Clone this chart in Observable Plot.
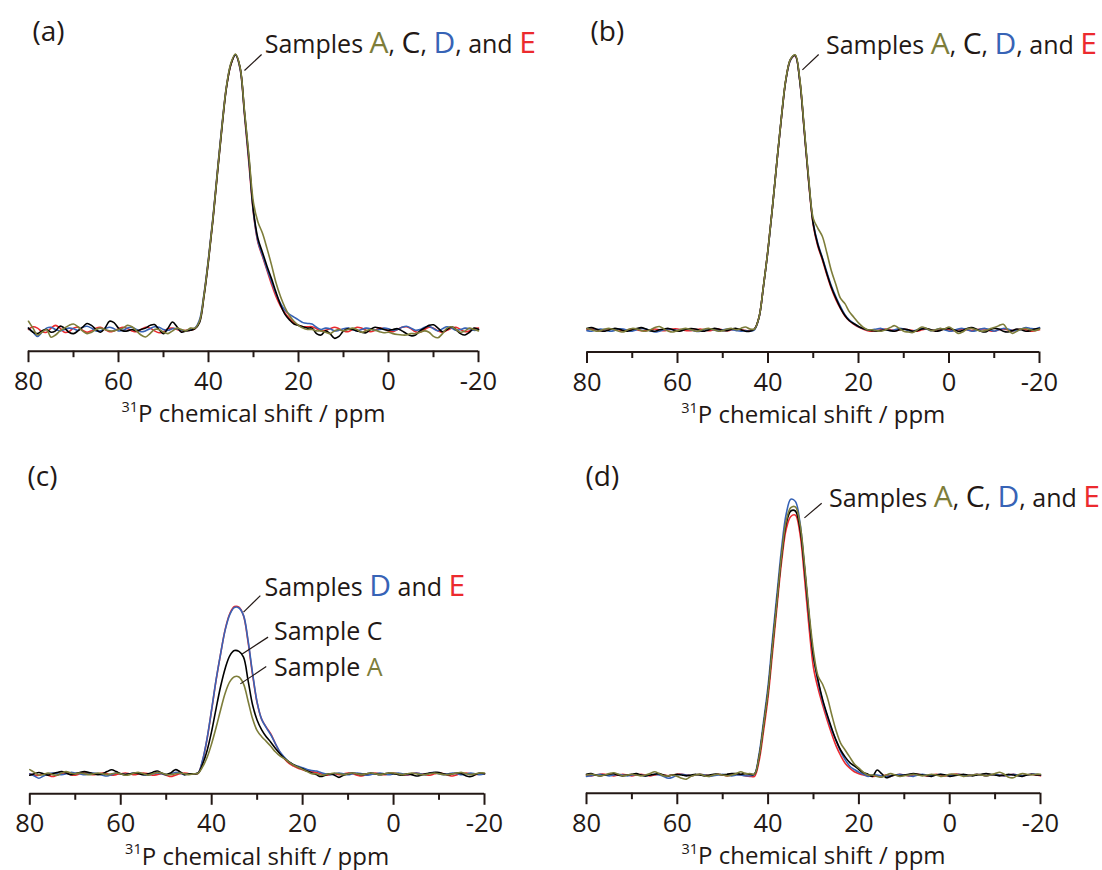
<!DOCTYPE html>
<html><head><meta charset="utf-8">
<script src="https://cdn.jsdelivr.net/npm/d3@7"></script>
<script src="https://cdn.jsdelivr.net/npm/@observablehq/plot@0.6"></script>
<style>
html,body{margin:0;padding:0;background:#fff;}
#wrap{position:relative;width:1102px;height:870px;background:#fff;}
.panel{position:absolute;width:551px;height:435px;}
</style></head><body><div id="wrap"></div>
<script>
// chemical shift grid (ppm)
const ppm = [80,79,78,77,76,75,74,73,72,71,70,69,68,67,66,65,64,63,62,61,60,59,58,57,56,55,54,53,52,51,50,49,48,47,46,45,
44,43,42,41,40,39,38,37,36,35,34,33,32,31,30,29,28,27,26,25,24,23,22,21,20,19,18,
17,16,15,14,13,12,11,10,9,8,7,6,5,4,3,2,1,0,-1,-2,-3,-4,-5,-6,-7,-8,-9,-10,-11,-12,-13,-14,-15,-16,-17,-18,-19,-20];
const majorTicks = [80,60,40,20,0,-20];
const minorTicks = [70,50,30,10,-10];

// panel (a)
const a_A = [3,0.5,-2,-1,0,-2.8,-2,-0.5,0.5,1.5, 2,1,-0.5,-1.5,-1,0,0.5,0,-0.5,-0.5, 0,0.5,1.5,1,-0.5,-2,-2.7,-1.5,0,0, -1,-1.5,-0.5,0.5,0,-0.5,
0.5,0.5,3,12.5,25.5,40.5,57.5,74,88.5,97, 100.2,95.5,79.5,63,46,39,35,29.5,23.5,17, 12,8,5,3,1.5,0.5,0,
0,-0.5,-0.5,-1,-1.5,-0.5,0,-0.5,0,0.5, 0,-1,-0.5,0,-0.3,-0.8,-1.2,-1,-1.5,-1.8, -2,-2,-1.5,-1.5,-1,-0.5,-1,-2.5,-3,-1.5, 0.5,1,0,-1,-0.5,0.5,0,-0.5];
const a_C = [0.5,-1,-1.5,-0.5,0,-1,-0.5,1.2,0.5,-1, -1.5,-0.5,0.8,2.2,1.5,0,-1,0.5,3,2.5, 0.5,-0.5,-0.5,0,-0.5,0,0.5,1.5,1.8,0, -1.5,0.5,2.7,1,-1,-0.5,
-0.3,0.3,2.5,12,25,40,57,73.5,88,96.5, 100,95.5,79,62,43,33,28,23,18.5,13.5, 9,5.5,3.5,2,1.5,1,0.5,
0.5,-1.5,-2,-0.5,-1.5,-3.2,-2.5,-0.5,0.3,0, -0.5,-1,-1.2,0,0.8,0.5,0,-0.3,0,0.3, -0.5,-1.5,-2.3,-2,-0.5,0.5,1.5,1.7,0.5,-0.8, 0,1,0,-1.5,-2,-1,0.5,0];
const a_D = [0.5,-1,-2.5,-1,0.5,0.8,0,-0.5,0,0.5, 0.3,-0.3,0.8,1.2,0.5,-0.5,-0.5,0.3,0.8,0.3, -0.5,-0.3,0.5,0.8,0,-0.8,-0.5,0.3,1,0.8, 0,-0.3,0.3,0.3,-0.3,-0.5,
0,0.5,3.5,13,26,41,58,74.5,88.5,96.7, 99.8,95,78.5,61,42.5,32,27,22,17.5,13, 9.5,7,5.5,4.5,3.5,2.5,2.2,
2,0.8,0,0.5,0.3,-0.5,-0.3,0.3,0.5,0, -0.5,0,0.5,0.3,-0.3,0,0.5,0.3,-0.3,0, 0.8,1.2,0.5,-0.3,0,0.8,1.2,0.3,-0.5,0.3, 1,0.5,-0.3,0,0.5,0.3,-0.3,0];
const a_E = [0,1,0.5,-0.8,-1,0.5,1.5,0.5,-1,-0.8, 0.5,0.8,-0.3,-1,-0.5,0.5,0.8,0,-0.8,-0.5, 0.3,0.8,0.3,-0.5,-0.8,0,0.8,0.5,-0.5,-1.2, -0.8,0.3,0.5,0,-0.5,-0.3,
-0.3,0.3,2.8,12.5,25.5,40.5,57.5,74,88.3,96.5, 99.8,95,78,60,42,31.5,26.5,21.5,16.5,12, 8.5,6,4,2.5,1.5,1,1,
1,0.3,-0.5,-0.3,0.3,0.8,0.3,-0.5,-0.8,0, 0.8,0.5,-0.3,-0.8,-0.3,0.5,0.3,-0.5,-0.8,0, 0.8,1,0.3,-0.8,-1,0,0.8,0.5,-0.5,-1, -0.3,0.5,0.8,0,-0.8,-0.5,0.3,0.5];

// panel (b)
const b_A = [0.5,0,-0.5,-0.3,0.3,0.5,0,-0.5,-0.8,0, 0.5,0.3,-0.3,-0.5,0,0.8,1.2,0.3,-0.5,-0.8, -0.3,0.3,0.5,0,-0.5,-0.3,0.3,0.5,0,-0.5, -0.3,0.3,0.5,0,0.5,1,
0.3,0.3,4.5,16,29.2,44.9,61.7,78,91.7,98.5, 100,91.5,73.5,55,40.5,37,34,28,21.5,16.5, 11.5,9.5,6.5,4.5,2.5,1,0,
0,-0.3,-0.5,0,0.8,1.5,0.5,-0.5,-0.8,-1, 0,1,0.5,-0.3,0,0.5,0.3,1,0,-1.3, -0.8,0.3,0.5,0,-0.5,-0.3,0.3,0.8,1.5,2, 0,-1.3,-0.5,0.3,0.5,0,-0.3,0.3];
const b_C = [0.5,0.8,0.3,-0.3,-0.5,0,0.5,0.3,-0.3,-0.5, 0,0.5,0.8,0.3,-0.3,-0.5,0,0.3,0.5,0, -0.5,-0.3,0.3,0.5,0.3,-0.3,-0.5,0,0.5,0.3, -0.3,-0.3,0.3,0.5,0,-0.5,
-0.5,0.3,4.5,16,29.2,44.9,61.7,77.8,91.5,98.4, 99.8,91,72.9,54,38.5,31,26,20.5,15.5,11.5, 8,5.2,3.3,2.2,1.2,0.5,0,
-0.3,-0.5,-0.3,0,-0.3,-0.5,0,0.3,0,-0.5, -0.3,0.3,0.5,0,-0.5,-0.3,0.3,0.5,0,-0.5, -0.3,0.5,0.8,0.3,-0.5,-0.8,0,0.5,0.3,-0.5, -0.8,-0.3,0.3,0,-0.5,-0.3,0.3,0.5];
const b_D = [-0.3,-0.5,0,0.3,0,-0.5,-0.3,0.3,0.3,-0.3, -0.5,0,0.5,0.3,-0.3,-0.8,-0.5,0,0.3,0, -0.3,0,0.3,0,-0.5,-0.5,0,0.3,0,-0.3, 0,0.3,0,-0.3,-0.5,-0.3,
-0.5,0,4.3,15.8,29,44.8,61.7,77.8,91.3,98.2, 99.7,91,73,54.2,38.8,31.5,26.3,21,16,12, 8.5,5.5,3.5,2.3,1.2,0.5,0,
0,0.3,0.5,0,-0.3,0,0.5,0.3,-0.3,-0.5, 0,0.5,0.3,-0.3,0,0.5,0,-0.5,-0.3,0.3, 0.5,0,-0.5,-0.3,0.3,0.5,0,-0.5,0,0.5, 0.3,-0.3,-0.3,0.3,0.8,0.5,0.3,0.8];
const b_E = [0,0.3,0,-0.3,0,0.3,0.3,0,-0.3,0, 0.3,0,-0.3,-0.3,0,0.3,0,-0.3,0,0.3, 0.3,0,-0.3,-0.3,0,0.3,0,-0.3,0,0.3, 0,-0.3,0,0.3,0,-0.3,
-0.3,0.2,4.4,15.9,29.1,44.8,61.6,77.6,91.3,98.2, 99.6,90.8,72.5,53.5,38,30.5,25.5,20,15,11, 7.8,5,3.2,2,1,0.3,-0.3,
-0.5,-0.3,0,0.3,0,-0.3,0,0.3,0,-0.3, -0.5,0,0.3,0,-0.3,0,0.3,0,-0.3,0, 0.3,0,-0.3,0,0.3,0.3,-0.3,-0.5,0,0.3, 0,-0.3,0,0.3,0,-0.5,-0.3,0];

// panel (c)
const c_A = [1.5,0.5,-0.5,-0.3,0.3,-0.3,-0.5,0.3,0.8,0.3, 0,0.3,0,-0.3,0,0.3,0,-0.3,0,0.3, 0,-0.5,-0.3,0.3,0.5,0,-0.5,0,0.5,0.3, -0.3,-0.3,0,0.3,0,-0.3,
0,0.2,2.5,6,11,17,23.5,29.5,33.5,35.3, 35.2,32.7,26.5,20,15.7,13.5,11.8,10,8,6.5, 5.5,4.3,3.2,2.4,1.6,0.8,0,
0,-0.5,-0.3,0,0.3,0,-0.3,0,0.3,0, -0.3,0,0.3,0,-0.3,0,0.3,0.3,0,-0.3, 0,0.3,0,-0.3,-0.3,0,0.3,0,-0.3,-0.3, 0,0.3,0.5,0,-0.3,0,0.3,0.3];
const c_C = [-0.5,0,0.5,0,-0.5,0,0.5,0.8,0.3,-0.3, 0,0.5,0.8,0.5,0,-0.3,0,0.8,1.5,0.8, 0,-0.3,0,0.3,0,-0.3,0,0.5,1,0.3, -0.3,0.3,1.5,0.8,-0.3,0,
0,0.2,3.5,8.5,15.5,24,32,38.5,43,44.8, 44.5,42.4,34,25,19.5,16,13.5,11.5,9.3,7.3, 5.6,4.3,3.3,2.5,1.8,1,0.3,
-0.3,-1,-0.5,0,-0.5,-1.3,-0.5,0,0.3,0, -0.3,0,0.3,0,-0.3,0,0.3,0,-0.3,-0.5, 0,-0.3,-0.8,-0.5,0,0.3,0.5,0.5,0,-0.3, 0,0.3,0,-0.8,-1,-0.3,0.3,0];
const c_D = [0,-0.8,-1.6,-0.8,0,0.3,0,-0.3,0,0.5, 0.3,0,-0.3,0,0.3,0,-0.5,-0.8,-0.3,0.3, 0,-0.3,0,0.3,0.3,-0.3,-0.5,0,0.3,0, -0.3,0,0.5,0.3,-0.3,0,
0,0.3,5,13,23.5,34.5,44,52.5,58,60.5, 60.3,57.6,48.5,36.5,26,19.8,16.8,14.2,11,8, 6,4.3,3.3,2.7,2.2,1.6,1.2,
1,0.5,0,-0.3,0,0.3,0,-0.3,0,0.3, 0,-0.5,-0.3,0,0.3,0,-0.3,0,0.3,0, -0.3,0,0.3,0,-0.3,0.3,0.5,0,-0.3,0, 0.3,0,-0.3,0,0.3,0,-0.3,0];
const c_E = [0,-0.5,-0.5,0,-0.5,-1,-0.5,0,0.3,-0.3, -0.5,0,0.3,0,-0.3,0,0.3,0,-0.5,-0.3, 0,0.3,0,-0.3,0,0.3,0,-0.5,-0.3,0, -0.5,-1,-0.5,0,0.3,0,
0,0.2,4.8,12.8,23.3,34.3,44,52.7,58.3,60.8, 60.6,57.5,48,36,25.8,19.8,17,14.5,11,7.8, 5.5,3.8,2.8,2,1.5,1,0.8,
0.5,0,-0.5,-0.3,0,-0.3,0,0.3,0,-0.5, -0.8,-0.3,0,0.3,0,-0.3,0,0.3,0,-0.3, -0.5,0,0.3,0,-0.3,-0.5,0,0.3,0,-0.5, -0.8,-0.3,0,0.3,0,-0.3,0,0];

// panel (d)
const d_A = [0,0.3,0,-0.3,0,0.5,0.8,0.3,-0.3,0, 0.3,0,-0.3,0,0.5,1.2,0.5,-0.3,-0.3,0, -0.5,-1.2,-1.5,-0.5,0,0.3,-0.3,-0.5,0,0.3, 0,-0.3,0,0.5,1.2,0.5,
0.5,0.3,6.5,18,30.5,47.5,64,80.5,92.5,97.2, 97.5,91.5,77,59.5,45,36,33,28.5,22,16, 11.5,9,6.5,4,2.5,1,0,
0,-0.5,-0.8,0,0.5,0,-0.5,-0.3,0,0.3, 0,-0.3,0,0.3,0,-0.5,-0.3,0.3,0.3,0, -0.5,-0.3,0,0.3,0,-0.3,0,0.5,1,0.3, -0.8,-1,0,0.5,0.3,0,0.3,0.3];
const d_C = [0.3,0.5,0,-0.3,0,0.3,0.5,0,-0.3,0, 0.3,0.5,0,-0.3,0,0.3,0.5,0,-0.3,0, 0.3,0,-0.3,0,0.3,0,-0.3,0,0.3,0.3, 0,0.3,0.5,0.5,0.3,0.5,
0.3,0.3,6.5,18,30.5,47.5,64,80,91.5,96, 96,90,75.5,58,43,34.5,27.5,22,17,12.5, 9,6.5,4.5,3.3,2,0.8,0.3,
-0.5,1.8,0.5,-1,-0.5,0,-0.3,0,0.3,0.5, 0.3,0,-0.3,-0.5,0,0.3,0,-0.5,-0.3,0, 0.3,0,-0.3,0,0.3,0.5,0.3,0,-0.3,0, 0.3,0,-0.3,-0.5,0,0.3,0,0];
const d_D = [-0.5,-0.3,0,0.3,0,-0.3,0,0.3,0,-0.3, 0,0.3,0,-0.3,0,0.3,0,-0.5,-1.2,-0.8, 0,0.3,0,-0.3,0,0.3,0,-0.5,-0.3,0, 0.3,0,-0.3,0,0,-0.3,
-0.3,0.3,7.5,19.5,32.5,50,66.5,83,95,100.3, 99.5,92,76,58,43,34,27,21.5,16.5,12.5, 8.5,5.5,3.2,2,1,0.3,-0.5,
0,0,-0.3,-0.5,-0.3,0,0.3,0,-0.3,-0.5, 0,0.3,0,-0.3,0,0.3,0,-0.3,0,0.3, 0,-0.3,0,0.3,0,-0.3,0,0.3,0,-0.3, 0,0.3,0,-0.3,0,0.3,0.3,0];
const d_E = [0,-0.3,0,0.3,0.3,0,-0.3,0,0.3,0, -0.3,0,0.3,0,-0.3,0,0.3,0,-0.3,0, 0.3,0.3,0,-0.3,0,0.3,0,-0.3,0,0.3, 0,-0.3,0,0.3,0,-0.3,
-0.5,-0.5,5,16,28.5,45,62,78,89.5,94, 94.5,88,72,54,39,31.5,25.5,20,15,10.5, 7,4.2,2.5,1.2,0.5,0,-0.3,
-0.5,-0.3,-0.3,0,-0.3,0,0.3,0,-0.3,0, 0.3,0,-0.3,0,0.3,0,-0.3,0,0.3,0.3, 0,-0.3,0,0.3,0,-0.3,0,0.3,0,-0.3, 0,0.3,0,-0.3,0,0.3,0,-0.3];

const W = 551, H = 435, K = 2.75;
const TXT = "#231815";
const COL = {A: "#7d7d3a", C: "#000000", D: "#3763b6", E: "#ec2a2e"};
const order = ["E", "D", "C", "A"];
const AXIS_TITLE = "31P chemical shift / ppm";

const RICH = {
  "Samples A, C, D, and E": [["Samples ", TXT, 0], ["A", COL.A, 1], [", ", TXT, 0], ["C", TXT, 1], [", ", TXT, 0], ["D", COL.D, 1], [", and ", TXT, 0], ["E", COL.E, 1]],
  "Samples D and E": [["Samples ", TXT, 0], ["D", COL.D, 1], [" and ", TXT, 0], ["E", COL.E, 1]],
  "Sample C": [["Sample ", TXT, 0], ["C", TXT, 0]],
  "Sample A": [["Sample ", TXT, 0], ["A", COL.A, 0]]
};

const panels = [
  {left: 0, top: 0, x0: 28, x1: 478, axis: 350.7, base: 329, label: "(a)", labX: 32, labB: 40.5,
   s: {A: a_A, C: a_C, D: a_D, E: a_E},
   leaders: [{x1: 32.0, y1: 94.2, x2: 28.2, y2: 100}],
   annots: [{x: 27.5, y: 100.4, t: "Samples A, C, D, and E"}]},
  {left: 551, top: 0, x0: 35.5, x1: 488, axis: 351.5, base: 329.3, label: "(b)", labX: 39, labB: 40.5,
   s: {A: b_A, C: b_C, D: b_D, E: b_E},
   leaders: [{x1: 32.4, y1: 94.5, x2: 28.8, y2: 100.1}],
   annots: [{x: 27.2, y: 100.2, t: "Samples A, C, D, and E"}]},
  {left: 0, top: 442, x0: 29.3, x1: 484, axis: 351.3, base: 331.3, label: "(c)", labX: 27, labB: 43.5,
   s: {A: c_A, C: c_C, D: c_D, E: c_E},
   leaders: [{x1: 33.0, y1: 58.8, x2: 29.3, y2: 64.8}, {x1: 33.3, y1: 43.6, x2: 27.6, y2: 49.7}, {x1: 33.7, y1: 32.7, x2: 28.0, y2: 39}],
   annots: [{x: 28.4, y: 64.5, t: "Samples D and E"}, {x: 26.3, y: 48.5, t: "Sample C"}, {x: 26.3, y: 35.6, t: "Sample A"}]},
  {left: 551, top: 442, x0: 35, x1: 489, axis: 350.7, base: 332.5, label: "(d)", labX: 34, labB: 43.5,
   s: {A: d_A, C: d_C, D: d_D, E: d_E},
   leaders: [{x1: 32.0, y1: 93.5, x2: 28.2, y2: 98.8}],
   annots: [{x: 26.6, y: 97.4, t: "Samples A, C, D, and E"}]}
];

const wrap = document.getElementById("wrap");
for (const p of panels) {
  const ml = p.x0, mr = W - p.x1, mt = 15, mb = H - p.axis;
  const yLo = -(p.axis - p.base) / K, yHi = (p.base - mt) / K;
  const svg = Plot.plot({
    width: W, height: H, marginLeft: ml, marginRight: mr, marginTop: mt, marginBottom: mb,
    style: {fontFamily: "'Open Sans', sans-serif", color: TXT, background: "transparent", overflow: "visible"},
    x: {domain: [80, -20], axis: null},
    y: {domain: [yLo, yHi], axis: null},
    marks: [
      Plot.ruleY([yLo], {stroke: TXT, strokeWidth: 2}),
      Plot.axisX(majorTicks, {anchor: "bottom", tickSize: 11.5, tickPadding: 9, strokeWidth: 2, stroke: TXT, fill: TXT, fontSize: 25.5, tickFormat: d => String(d), label: null}),
      Plot.axisX(minorTicks, {anchor: "bottom", tickSize: 6.5, strokeWidth: 2, stroke: TXT, tickFormat: () => "", label: null}),
      ...order.map(k => Plot.line(p.s[k], {x: ppm, y: p.s[k], stroke: COL[k], strokeWidth: 1.6, curve: "catmull-rom"})),
      Plot.link(p.leaders, {x1: "x1", y1: "y1", x2: "x2", y2: "y2", stroke: TXT, strokeWidth: 1.2}),
      Plot.text(p.annots, {x: "x", y: "y", text: "t", textAnchor: "start", lineAnchor: "bottom", fontSize: 25, fill: TXT}),
      Plot.text([p.label], {text: d => d, frameAnchor: "top-left", dx: p.labX - ml, dy: p.labB - mt, lineAnchor: "bottom", textAnchor: "start", fontSize: 28, fill: TXT}),
      Plot.text([AXIS_TITLE], {text: d => d, frameAnchor: "bottom", dy: 71, lineAnchor: "bottom", fontSize: 24, fill: TXT})
    ]
  });
  d3.select(svg).selectAll("text").each(function() {
    const s = this.textContent;
    const t = d3.select(this);
    if (RICH[s]) {
      t.text(null);
      for (const [str, c, big] of RICH[s]) {
        const sp = t.append("tspan").attr("fill", c).text(str);
        if (big) sp.attr("font-size", 30);
      }
    } else if (s === AXIS_TITLE) {
      t.text(null);
      t.append("tspan").attr("font-size", 14.5).attr("dy", -10.5).text("31");
      t.append("tspan").attr("dy", 10.5).text("P chemical shift / ppm");
    }
  });
  const div = document.createElement("div");
  div.className = "panel";
  div.style.left = p.left + "px";
  div.style.top = p.top + "px";
  div.appendChild(svg);
  wrap.appendChild(div);
}
</script>
</body></html>
